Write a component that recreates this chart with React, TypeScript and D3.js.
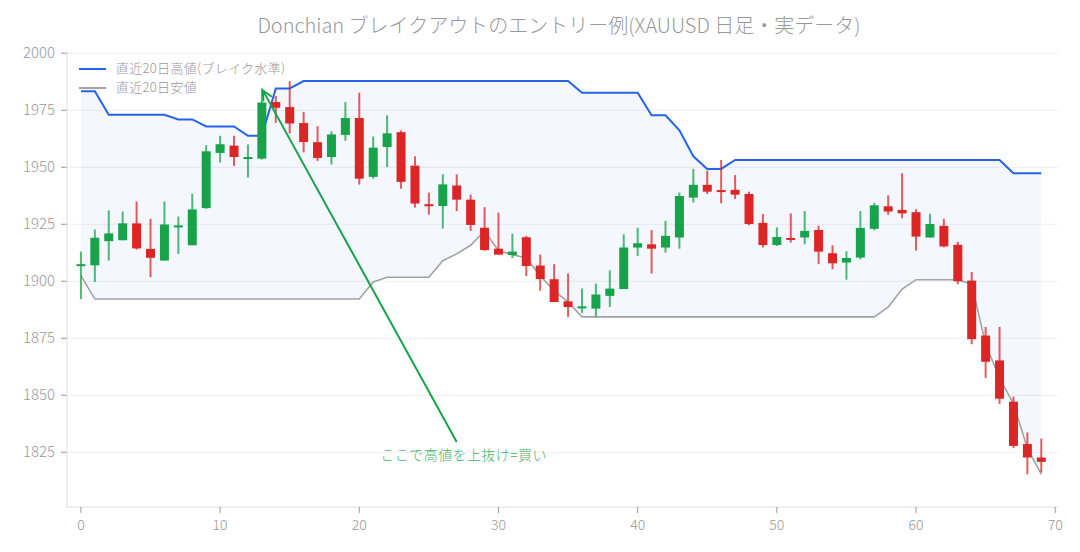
import * as d3 from 'd3'

const W = 1080, H = 552
const FONT = '"Noto Sans CJK JP", "Noto Sans", sans-serif'

const TITLE = 'Donchian ブレイクアウトのエントリー例(XAUUSD 日足・実データ)'
const LEGEND = ['直近20日高値(ブレイク水準)', '直近20日安値']
const NOTE = 'ここで高値を上抜け=買い'

const opens = [
  1907.0, 1907.0, 1917.6, 1918.0, 1925.4, 1914.2, 1909.1, 1924.0, 1915.8, 1932.1,
  1956.3, 1959.5, 1954.0, 1953.8, 1978.6, 1976.4, 1969.4, 1961.0, 1954.5, 1964.2,
  1971.6, 1945.8, 1958.9, 1965.4, 1950.7, 1933.8, 1933.0, 1942.0, 1935.8, 1923.5,
  1914.3, 1911.5, 1919.3, 1906.9, 1900.9, 1891.2, 1888.5, 1888.0, 1893.6, 1896.6,
  1914.8, 1916.2, 1914.8, 1919.2, 1936.7, 1942.3, 1940.0, 1940.1, 1938.3, 1925.6,
  1915.9, 1919.0, 1919.2, 1922.5, 1912.3, 1908.2, 1910.4, 1923.0, 1932.9, 1931.3,
  1930.3, 1919.2, 1924.3, 1916.0, 1900.3, 1876.2, 1865.3, 1847.2, 1828.6, 1822.7,
]
const highs = [
  1913.0, 1922.7, 1931.1, 1930.6, 1935.0, 1927.4, 1935.0, 1928.4, 1938.4, 1959.7,
  1963.8, 1963.8, 1960.0, 1984.6, 1981.2, 1987.8, 1974.3, 1968.0, 1965.8, 1978.6,
  1982.7, 1963.5, 1972.8, 1966.2, 1954.8, 1938.9, 1946.9, 1946.9, 1938.0, 1932.5,
  1930.1, 1920.9, 1919.9, 1911.7, 1907.5, 1903.4, 1896.8, 1899.0, 1904.8, 1920.6,
  1923.5, 1922.5, 1926.5, 1938.9, 1949.3, 1948.5, 1953.2, 1946.6, 1939.3, 1929.5,
  1923.7, 1929.8, 1930.8, 1924.4, 1915.8, 1913.2, 1930.8, 1934.4, 1937.7, 1947.4,
  1931.6, 1929.6, 1927.4, 1917.3, 1904.1, 1880.0, 1880.0, 1849.4, 1833.7, 1831.0,
]
const lows = [
  1892.2, 1899.7, 1909.1, 1918.0, 1913.9, 1901.8, 1909.0, 1912.0, 1915.8, 1931.8,
  1952.1, 1950.6, 1945.5, 1953.4, 1969.5, 1964.8, 1956.5, 1952.8, 1951.2, 1961.6,
  1942.4, 1945.0, 1950.1, 1940.6, 1932.3, 1929.2, 1923.1, 1930.8, 1922.1, 1913.4,
  1911.7, 1910.2, 1902.3, 1895.9, 1890.9, 1884.4, 1886.1, 1884.4, 1888.7, 1896.6,
  1911.1, 1903.4, 1912.6, 1914.3, 1934.5, 1938.3, 1934.2, 1936.1, 1924.6, 1914.8,
  1915.5, 1917.0, 1916.2, 1907.5, 1905.3, 1900.7, 1909.6, 1922.4, 1929.2, 1927.6,
  1913.5, 1919.2, 1914.9, 1898.7, 1872.4, 1857.6, 1846.2, 1826.8, 1815.3, 1816.2,
]
const closes = [
  1907.5, 1919.1, 1921.0, 1925.4, 1914.4, 1910.3, 1924.9, 1924.5, 1931.5, 1957.0,
  1960.1, 1954.5, 1954.5, 1978.4, 1976.1, 1969.2, 1961.1, 1954.1, 1964.4, 1971.6,
  1945.0, 1958.6, 1964.9, 1943.6, 1934.1, 1933.5, 1942.5, 1935.8, 1924.7, 1913.7,
  1911.7, 1913.0, 1906.7, 1901.0, 1890.9, 1888.7, 1889.0, 1894.2, 1896.8, 1914.8,
  1916.7, 1914.3, 1919.9, 1937.4, 1942.3, 1939.3, 1939.5, 1938.0, 1925.1, 1915.9,
  1919.4, 1918.7, 1922.1, 1913.0, 1907.9, 1910.2, 1923.4, 1933.3, 1930.6, 1929.8,
  1919.6, 1925.1, 1915.3, 1900.0, 1874.6, 1864.7, 1848.5, 1827.8, 1822.7, 1820.8,
]
const upper = [
  1983.4, 1983.4, 1973.0, 1973.0, 1973.0, 1973.0, 1973.0, 1971.0, 1971.0, 1967.9,
  1967.9, 1967.9, 1963.8, 1963.8, 1984.6, 1984.6, 1987.8, 1987.8, 1987.8, 1987.8,
  1987.8, 1987.8, 1987.8, 1987.8, 1987.8, 1987.8, 1987.8, 1987.8, 1987.8, 1987.8,
  1987.8, 1987.8, 1987.8, 1987.8, 1987.8, 1987.8, 1982.7, 1982.7, 1982.7, 1982.7,
  1982.7, 1972.8, 1972.8, 1966.2, 1954.8, 1949.3, 1949.3, 1953.2, 1953.2, 1953.2,
  1953.2, 1953.2, 1953.2, 1953.2, 1953.2, 1953.2, 1953.2, 1953.2, 1953.2, 1953.2,
  1953.2, 1953.2, 1953.2, 1953.2, 1953.2, 1953.2, 1953.2, 1947.4, 1947.4, 1947.4,
]
const lower = [
  1902.5, 1892.2, 1892.2, 1892.2, 1892.2, 1892.2, 1892.2, 1892.2, 1892.2, 1892.2,
  1892.2, 1892.2, 1892.2, 1892.2, 1892.2, 1892.2, 1892.2, 1892.2, 1892.2, 1892.2,
  1892.2, 1899.7, 1901.8, 1901.8, 1901.8, 1901.8, 1909.0, 1912.0, 1915.8, 1922.1,
  1913.4, 1911.7, 1910.2, 1902.3, 1895.9, 1890.9, 1884.4, 1884.4, 1884.4, 1884.4,
  1884.4, 1884.4, 1884.4, 1884.4, 1884.4, 1884.4, 1884.4, 1884.4, 1884.4, 1884.4,
  1884.4, 1884.4, 1884.4, 1884.4, 1884.4, 1884.4, 1884.4, 1884.4, 1888.7, 1896.6,
  1900.7, 1900.7, 1900.7, 1900.7, 1898.7, 1872.4, 1857.6, 1846.2, 1826.8, 1815.3,
]
const yTicks = [1825, 1850, 1875, 1900, 1925, 1950, 1975, 2000]
const xTicks = [0, 10, 20, 30, 40, 50, 60, 70]
// breakout bar and where the note sits
const signalIdx = 13
const notePos = { x: 27, y: 1829.5 }

const UP = '#16a34a', DOWN = '#dc2626', BLUE = '#2563eb', GREY = '#a3a3a3'

export default function App() {
  const m = { l: 67, r: 22, t: 51, b: 45 }
  const x = d3.scaleLinear().domain([-1, 70.2]).range([m.l, W - m.r])
  const y = d3.scaleLinear().domain([1801, 2001]).range([H - m.b, m.t])
  const idx = d3.range(closes.length)

  const band = d3.area<number>().x(i => x(i)).y0(i => y(lower[i])).y1(i => y(upper[i]))
  const line = (vals: number[]) => d3.line<number>().x(i => x(i)).y(i => y(vals[i]))(idx)!
  const bw = 9

  const ax = x(notePos.x), ay = y(notePos.y)
  const tx = x(signalIdx) + 1, ty = y(highs[signalIdx]) + 2
  const ang = Math.atan2(ay - ty, ax - tx)
  const head = [-0.45, 0.45].map(d => [tx + 11 * Math.cos(ang + d), ty + 11 * Math.sin(ang + d)])

  return (
    <svg width={W} height={H} style={{ display: 'block', position: 'absolute', left: 0, top: 0, background: '#fff' }} fontFamily={FONT}>
      <text x={559} y={33} textAnchor="middle" fontSize={20} fill="#999" fontWeight={300}>{TITLE}</text>

      {yTicks.map(t => (
        <g key={t}>
          <line x1={m.l} x2={W - m.r} y1={y(t)} y2={y(t)} stroke="#eeeeee" />
          <line x1={m.l - 6} x2={m.l} y1={y(t)} y2={y(t)} stroke="#999" />
          <text x={m.l - 12} y={y(t) + 5} textAnchor="end" fontSize={15} fill="#999" fontWeight={300}>{t}</text>
        </g>
      ))}
      <line x1={m.l} x2={m.l} y1={m.t} y2={H - m.b} stroke="#dddddd" />
      <line x1={m.l} x2={W - m.r} y1={H - m.b} y2={H - m.b} stroke="#dddddd" />
      {xTicks.map(t => (
        <g key={t}>
          <line x1={x(t)} x2={x(t)} y1={H - m.b} y2={H - m.b + 6} stroke="#999" />
          <text x={x(t)} y={H - m.b + 23} textAnchor="middle" fontSize={14} fill="#999" fontWeight={300}>{t}</text>
        </g>
      ))}

      <path d={band(idx)!} fill={BLUE} fillOpacity={0.05} />
      <path d={line(upper)} fill="none" stroke={BLUE} strokeWidth={2} />
      <path d={line(lower)} fill="none" stroke={GREY} strokeWidth={1.6} />

      {idx.map(i => {
        const col = closes[i] >= opens[i] ? UP : DOWN
        const top = y(Math.max(opens[i], closes[i])), bot = y(Math.min(opens[i], closes[i]))
        return (
          <g key={i}>
            <line x1={x(i)} x2={x(i)} y1={y(highs[i])} y2={y(lows[i])} stroke={col} strokeOpacity={0.75} strokeWidth={2} />
            <rect x={x(i) - bw / 2} y={top} width={bw} height={Math.max(2, bot - top)} fill={col} />
          </g>
        )
      })}

      <line x1={ax} y1={ay} x2={tx} y2={ty} stroke={UP} strokeWidth={2} />
      <path d={`M${head[0][0]},${head[0][1]}L${tx},${ty}L${head[1][0]},${head[1][1]}`} fill="none" stroke={UP} strokeWidth={2} />
      <text x={ax + 7} y={ay + 18} textAnchor="middle" fontSize={14} letterSpacing={0.4} fill={UP} fillOpacity={0.85} fontWeight={300}>{NOTE}</text>

      <g fontSize={13} fill="#999" letterSpacing={0.3} fontWeight={300}>
        <line x1={79} x2={106} y1={69} y2={69} stroke={BLUE} strokeWidth={2} />
        <text x={116} y={73}>{LEGEND[0]}</text>
        <line x1={79} x2={106} y1={88} y2={88} stroke={GREY} strokeWidth={2} />
        <text x={116} y={92}>{LEGEND[1]}</text>
      </g>
    </svg>
  )
}
